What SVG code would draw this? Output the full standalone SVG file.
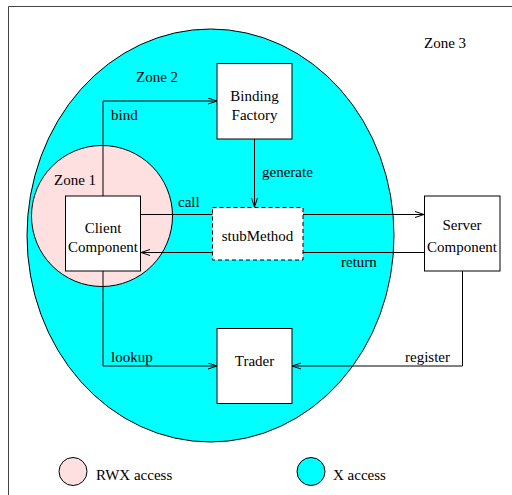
<svg xmlns="http://www.w3.org/2000/svg" width="512" height="495" viewBox="0 0 512 495">
<defs>
<style>
text{font-family:"Liberation Serif","Times New Roman",serif;font-size:15px;fill:#000}
.box{fill:#fff;stroke:#000;stroke-width:1}
.dash{fill:#fff;stroke:#000;stroke-width:1;stroke-dasharray:4,3}
.c{fill:none;stroke:#000;stroke-width:1;marker-end:url(#ah)}
.m{text-anchor:middle}
</style>
<marker id="ah" markerWidth="10" markerHeight="8" refX="9" refY="3.5" orient="auto" markerUnits="userSpaceOnUse">
<path d="M0,0.5 L9,3.5 L0,6.5" fill="none" stroke="#000" stroke-width="1"/>
</marker>
</defs>
<rect width="512" height="495" fill="#fff"/>
<path d="M8.5,495 V6.5 H512" fill="none" stroke="#444" stroke-width="1"/>
<g id="zone2"><ellipse cx="210.5" cy="235.5" rx="183.5" ry="206.5" fill="#00ffff" stroke="#000" stroke-width="1"/></g>
<g id="zone1"><circle cx="102" cy="216" r="70.5" fill="#ffe0e0" stroke="#000" stroke-width="1"/></g>
<text x="424" y="48">Zone 3</text>
<text x="136" y="82">Zone 2</text>
<text x="54" y="185">Zone 1</text>
<g id="connectors">
<path class="c" d="M103,196 V101 H217"/>
<path class="c" d="M254.5,139 V207"/>
<path class="c" d="M141,214.5 H424"/>
<path class="c" d="M424,252.5 H141"/>
<path class="c" d="M103,271 V366 H217"/>
<path class="c" d="M462.5,271 V366 H292"/>
<text x="111" y="120">bind</text>
<text x="262" y="177">generate</text>
<text x="178" y="207">call</text>
<text x="341" y="267">return</text>
<text x="111" y="362">lookup</text>
<text x="405" y="362">register</text>
</g>
<g id="client"><rect class="box" x="65.5" y="196" width="75" height="75"/><text class="m" x="103" y="233">Client</text><text class="m" x="103" y="252">Component</text></g>
<g id="binding"><rect class="box" x="217" y="63.5" width="75" height="75.5"/><text class="m" x="254.5" y="101">Binding</text><text class="m" x="254.5" y="120">Factory</text></g>
<g id="stub"><rect class="dash" x="212.5" y="207.5" width="90.5" height="52.5"/><text class="m" x="257.5" y="241">stubMethod</text></g>
<g id="server"><rect class="box" x="424.5" y="196" width="75.5" height="75"/><text class="m" x="462" y="230">Server</text><text class="m" x="462" y="252">Component</text></g>
<g id="trader"><rect class="box" x="217" y="328.5" width="75" height="75"/><text class="m" x="254.5" y="366">Trader</text></g>
<g id="legend">
<circle cx="73" cy="471.5" r="14" fill="#ffe0e0" stroke="#000" stroke-width="1"/>
<text x="96" y="480">RWX access</text>
<circle cx="311" cy="471.5" r="14" fill="#00ffff" stroke="#000" stroke-width="1"/>
<text x="333" y="480">X access</text>
</g>
</svg>
